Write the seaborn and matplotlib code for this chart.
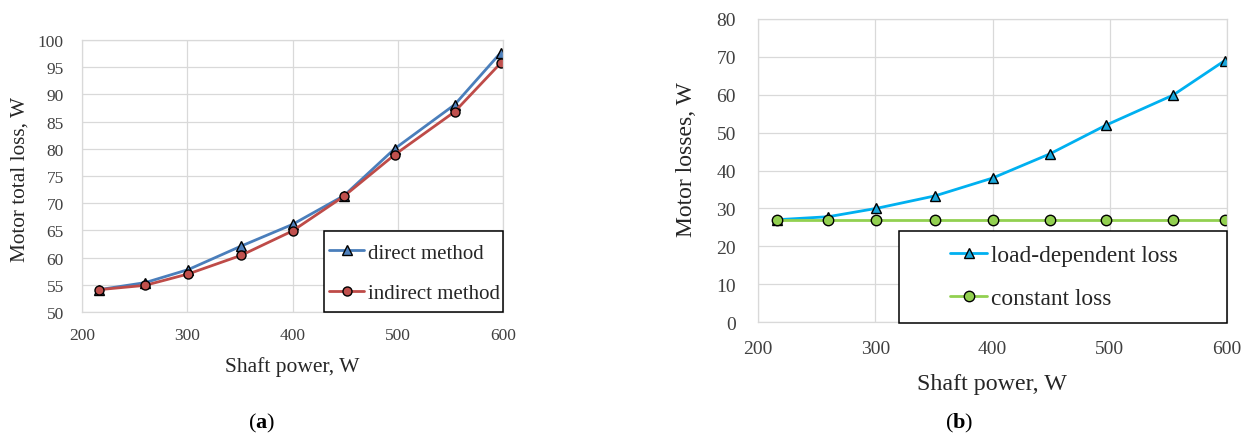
import seaborn as sns
import matplotlib
matplotlib.use('Agg')
import matplotlib.pyplot as plt
from matplotlib.patches import Rectangle

# values
shaft_power = [216, 260, 301, 351, 400, 449, 497, 554, 598]
direct_loss = [54.1, 55.4, 57.8, 62.1, 66.1, 71.4, 80.0, 88.1, 97.7]
indirect_loss = [54.1, 54.9, 57.0, 60.4, 64.9, 71.3, 78.9, 86.8, 95.8]
load_dependent_loss = [27.0, 27.8, 30.0, 33.3, 38.0, 44.4, 52.0, 59.9, 69.0]
constant_loss = [27.0, 27.0, 27.0, 27.0, 27.0, 27.0, 27.0, 27.0, 27.0]

x_ticks = [200, 300, 400, 500, 600]
y_ticks_a = [50, 55, 60, 65, 70, 75, 80, 85, 90, 95, 100]
y_ticks_b = [0, 10, 20, 30, 40, 50, 60, 70, 80]

sns.set_theme(style='white')
plt.rcParams['font.family'] = ['Liberation Serif', 'DejaVu Serif']
plt.rcParams['mathtext.fontset'] = 'custom'
plt.rcParams['mathtext.rm'] = 'Liberation Serif'
plt.rcParams['mathtext.bf'] = 'Liberation Serif:bold'

W, H = 1247, 439
fig = plt.figure(figsize=(W / 100, H / 100), dpi=100)


def fx(px):
    return px / W


def fy(py):
    return 1 - py / H


grid_col = '#D9D9D9'


def style_axes(ax, xt, yt, tick_size, xpad, ypad):
    ax.set_xlim(xt[0], xt[-1])
    ax.set_ylim(yt[0], yt[-1])
    ax.set_xticks(xt)
    ax.set_yticks(yt)
    ax.grid(True, color=grid_col, linewidth=0.9)
    ax.set_axisbelow(True)
    for s in ax.spines.values():
        s.set_color(grid_col)
        s.set_linewidth(0.9)
    ax.tick_params(axis='both', length=0, labelsize=tick_size, colors='#404040')
    ax.tick_params(axis='x', pad=xpad)
    ax.tick_params(axis='y', pad=ypad)
    ax.set_xlabel('')
    ax.set_ylabel('')


# ---- panel (a)
ax1 = fig.add_axes([fx(82), fy(313), fx(503) - fx(82), fy(41) - fy(313)])
sns.lineplot(x=shaft_power, y=direct_loss, ax=ax1, color='#4A7EBB', linewidth=2.0,
             marker='^', markersize=6.5, markerfacecolor='#4F81BD',
             markeredgecolor='black', markeredgewidth=1, label='direct method')
sns.lineplot(x=shaft_power, y=indirect_loss, ax=ax1, color='#BE4B48', linewidth=2.0,
             marker='o', markersize=6.5, markerfacecolor='#C0504D',
             markeredgecolor='black', markeredgewidth=1, label='indirect method')
style_axes(ax1, x_ticks, y_ticks_a, 12.5, 11, 13)
ax1.get_legend().remove()
h1, l1 = ax1.get_legend_handles_labels()

# ---- panel (b)
ax2 = fig.add_axes([fx(758), fy(323), fx(1227) - fx(758), fy(20) - fy(323)])
sns.lineplot(x=shaft_power, y=load_dependent_loss, ax=ax2, color='#00B0F0', linewidth=2.0,
             marker='^', markersize=7, markerfacecolor='#1AA7DB',
             markeredgecolor='black', markeredgewidth=1, label='load-dependent loss')
sns.lineplot(x=shaft_power, y=constant_loss, ax=ax2, color='#92D050', linewidth=2.0,
             marker='o', markersize=7.5, markerfacecolor='#92D050',
             markeredgecolor='black', markeredgewidth=1, label='constant loss')
style_axes(ax2, x_ticks, y_ticks_b, 14, 13, 16)
ax2.get_legend().remove()
h2, l2 = ax2.get_legend_handles_labels()

# legend frames
fig.add_artist(Rectangle((fx(324), fy(313)), fx(503) - fx(324), fy(232) - fy(313),
                         transform=fig.transFigure, facecolor='white',
                         edgecolor='black', linewidth=1.1, zorder=5))
fig.add_artist(Rectangle((fx(899), fy(324)), fx(1227) - fx(899), fy(232) - fy(324),
                         transform=fig.transFigure, facecolor='white',
                         edgecolor='black', linewidth=1.1, zorder=5))

leg1 = fig.legend(h1, l1, loc='center left', bbox_to_anchor=(fx(329), fy(274)),
                  bbox_transform=fig.transFigure, frameon=False, fontsize=15,
                  borderpad=0, borderaxespad=0, handlelength=1.7, handletextpad=0.15,
                  labelspacing=1.0)
leg1.set_zorder(6)
leg2 = fig.legend(h2, l2, loc='center left', bbox_to_anchor=(fx(950), fy(278)),
                  bbox_transform=fig.transFigure, frameon=False, fontsize=16.8,
                  borderpad=0, borderaxespad=0, handlelength=1.6, handletextpad=0.15,
                  labelspacing=0.95)
leg2.set_zorder(6)

# axis titles and captions
txt = '#262626'
fig.text(fx(20), fy(180), 'Motor total loss, W', rotation=90, ha='center', va='center',
         fontsize=15.3, color=txt)
fig.text(fx(292), fy(367), 'Shaft power, W', ha='center', va='center', fontsize=15.5, color=txt)
fig.text(fx(687), fy(160), 'Motor losses, W', rotation=90, ha='center', va='center',
         fontsize=17, color=txt)
fig.text(fx(992), fy(385), 'Shaft power, W', ha='center', va='center', fontsize=17.3, color=txt)
fig.text(fx(262), fy(423), r'($\mathbf{a}$)', ha='center', va='center', fontsize=16, color='black')
fig.text(fx(959), fy(423), r'($\mathbf{b}$)', ha='center', va='center', fontsize=16, color='black')

fig.savefig('out.png', dpi=100)
